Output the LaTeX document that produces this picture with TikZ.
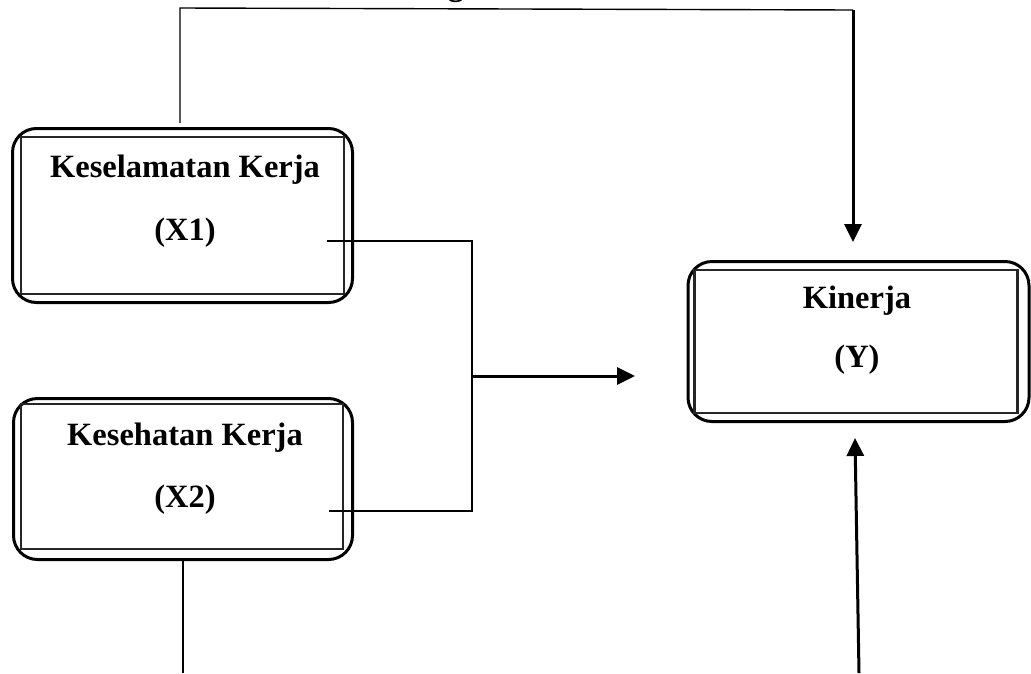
\documentclass[tikz,border=0pt]{standalone}
\usepackage{fontspec}
\setmainfont{Liberation Serif}
\usetikzlibrary{arrows.meta}
\begin{document}
\begin{tikzpicture}[x=1pt,y=-1pt,
  outerbox/.style={draw,line width=3pt,rounded corners=24pt,inner sep=0pt},
  innerbox/.style={draw,line width=2.6pt,black!85},
  lbl/.style={font=\fontsize{32.5}{40}\selectfont\bfseries,anchor=base,inner sep=0pt},
  thinline/.style={line width=1.4pt},
  arr/.style={line width=3pt,-{Triangle[length=18pt,width=17pt]}}]
\useasboundingbox (0,0) rectangle (1031,673);

% boxes
\node[outerbox,minimum width=340pt,minimum height=174pt] (x1) at (182.5,215.5) {};
\draw[innerbox] ([xshift=10pt,yshift=-10pt]x1.north west) rectangle ([xshift=-10pt,yshift=10pt]x1.south east);
\node[outerbox,minimum width=339pt,minimum height=161pt] (x2) at (183,479) {};
\draw[innerbox] ([xshift=9pt,yshift=-7pt]x2.north west) rectangle ([xshift=-11pt,yshift=12pt]x2.south east);
\node[outerbox,minimum width=341pt,minimum height=160pt] (y) at (858.5,341.5) {};
\draw[innerbox] ([xshift=8pt,yshift=-10pt]y.north west) rectangle ([xshift=-13pt,yshift=10pt]y.south east);

% labels
\node[lbl] (t1) at (185,177) {Keselamatan Kerja};
\node[lbl] (t1b) at (185,240) {(X1)};
\node[lbl] (t2) at (185,445) {Kesehatan Kerja};
\node[lbl] (t2b) at (185,507) {(X2)};
\node[lbl] (t3) at (857,308) {Kinerja};
\node[lbl] (t3b) at (857,367) {(Y)};
\node[lbl] (tg) at (456,-4.5) {g};

% coordinates
\coordinate (tl) at (180,8);
\coordinate (tr) at (853,10);
\coordinate (ytop) at (853,242);
\coordinate (a1) at (327,241);
\coordinate (b1) at (472,241);
\coordinate (a2) at (329,511);
\coordinate (b2) at (472,511);
\coordinate (mid) at (472,376);
\coordinate (midend) at (635,376);
\coordinate (bl) at (183,673);
\coordinate (br) at (859,673);
\coordinate (ybot) at (855,438);

% connectors
\draw[thinline] ([xshift=-2.5pt,yshift=4pt]x1.north) -- (tl) -- (tr);
\draw[arr] (tr) -- (ytop);
\draw[thinline] (a1) -- (b1) -- (b2) -- (a2);
\draw[arr] (mid) -- (midend);
\draw[thinline] (x2.south) -- (bl);
\draw[arr] (br) -- (ybot);
\end{tikzpicture}
\end{document}
